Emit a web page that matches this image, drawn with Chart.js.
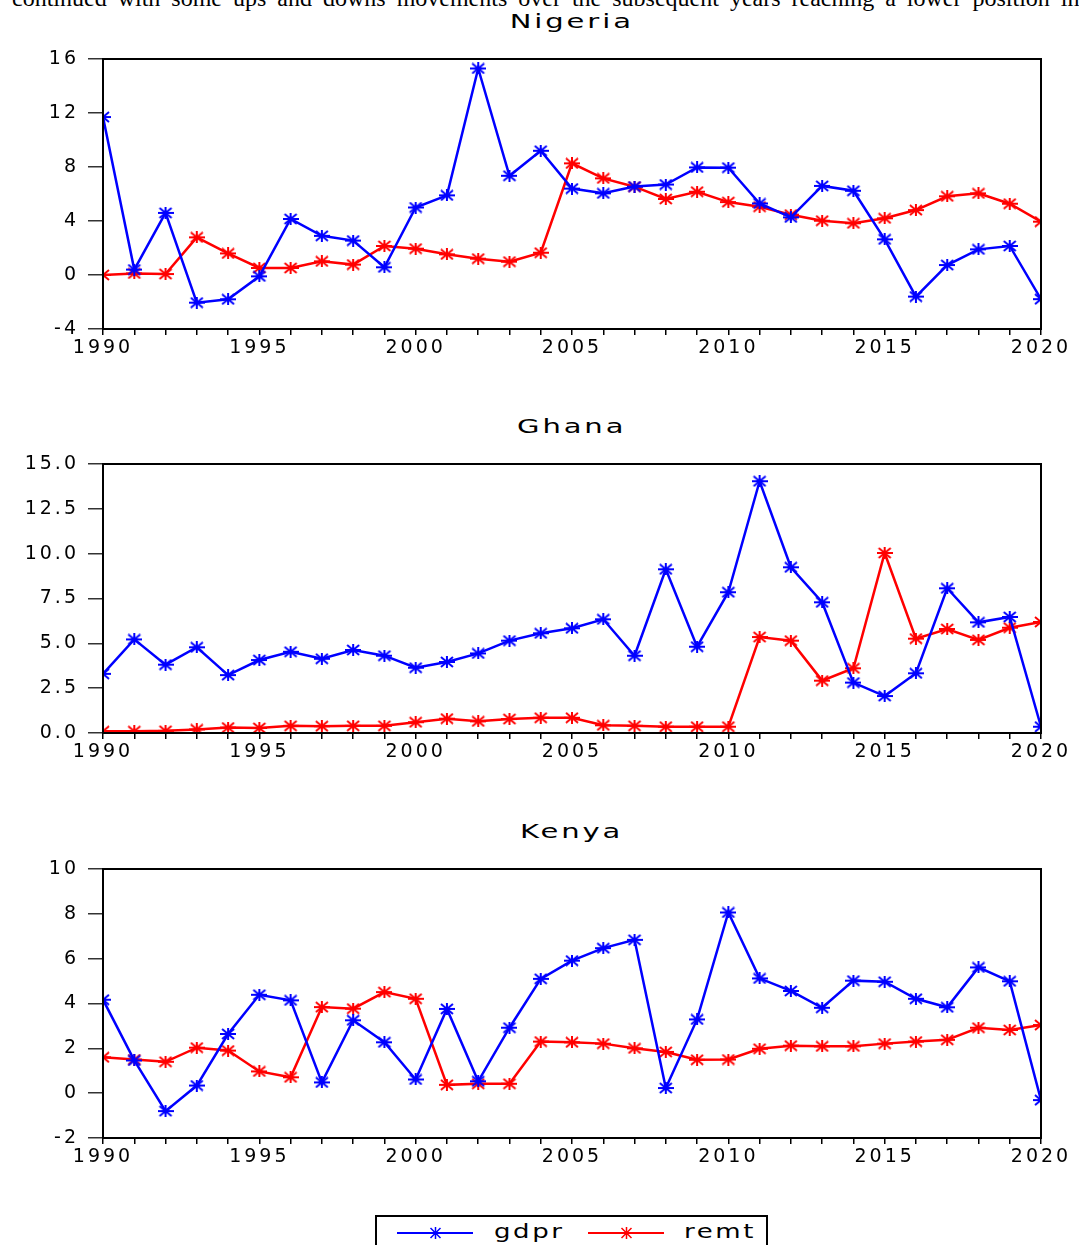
<!DOCTYPE html>
<html>
<head>
<meta charset="utf-8">
<script src="https://cdn.jsdelivr.net/npm/chart.js@4.4.1/dist/chart.umd.min.js"></script>
<style>
  html, body { margin: 0; padding: 0; background: #fff; }
  body { width: 1079px; height: 1245px; position: relative; overflow: hidden; }
  .box { position: absolute; left: 0; width: 1079px; height: 380px; }
  .ttl { position: absolute; left: 103px; width: 938px; text-align: center; font: 20px 'DejaVu Sans', sans-serif; color: #000; }
  .ttl span { display: inline-block; transform: scaleX(1.45); letter-spacing: 2px; }
  .txt { position: absolute; left: 12px; top: -14px; font: 24px 'Liberation Serif', serif; line-height: 24px; white-space: nowrap; word-spacing: 5px; color: #000; }
  .legend { position: absolute; left: 375px; top: 1215px; width: 389px; height: 44px; border: 2px solid #000; background: #fff; }
  .legend .ln { position: absolute; top: 15px; width: 76px; height: 2px; }
  .legend .lab { position: absolute; top: 2px; font: 20px 'DejaVu Sans', sans-serif; letter-spacing: 2px; color: #000; }
  .legend .lab span { display: inline-block; transform: scaleX(1.3); transform-origin: left; }
  .legend svg { position: absolute; top: 10px; }
</style>
</head>
<body>
<div class="txt">continued with some ups and downs movements over the subsequent years reaching a lower position in</div>

<div class="ttl" style="top:9px"><span>Nigeria</span></div>
<div class="box" style="top:0px"><canvas id="nigeria"></canvas></div>

<div class="ttl" style="top:414px"><span>Ghana</span></div>
<div class="box" style="top:400px"><canvas id="ghana"></canvas></div>

<div class="ttl" style="top:819px"><span>Kenya</span></div>
<div class="box" style="top:805px"><canvas id="kenya"></canvas></div>

<div class="legend">
  <div class="ln" style="left:20px;background:#0000ff"></div>
  <svg style="left:52px" width="13" height="12" viewBox="0 0 13 12"><path d="M0 6H13M6.5 0V12M1.5 1L11.5 11M11.5 1L1.5 11" stroke="#0000ff" stroke-width="1.5"/></svg>
  <div class="lab" style="left:117px"><span>gdpr</span></div>
  <div class="ln" style="left:211px;background:#ff0000"></div>
  <svg style="left:243px" width="13" height="12" viewBox="0 0 13 12"><path d="M0 6H13M6.5 0V12M1.5 1L11.5 11M11.5 1L1.5 11" stroke="#ff0000" stroke-width="1.5"/></svg>
  <div class="lab" style="left:307px"><span>remt</span></div>
</div>

<script>
const years = [];
for (let y = 1990; y <= 2020; y++) years.push(y);

// Nigeria
const nigeriaGdpr = [11.7, 0.4, 4.6, -2.05, -1.8, -0.1, 4.15, 2.9, 2.55, 0.57, 5.0, 5.9, 15.3, 7.35, 9.2,
  6.4, 6.05, 6.55, 6.7, 7.97, 7.95, 5.3, 4.27, 6.6, 6.24, 2.64, -1.6, 0.74, 1.9, 2.15, -1.79];
const nigeriaRemt = [0.0, 0.12, 0.07, 2.79, 1.6, 0.52, 0.52, 1.01, 0.77, 2.15, 1.95, 1.53, 1.21, 0.99, 1.65,
  8.27, 7.16, 6.54, 5.63, 6.17, 5.4, 5.06, 4.47, 4.02, 3.83, 4.2, 4.81, 5.83, 6.05, 5.28, 3.95];

// Ghana
const ghanaGdpr = [3.3, 5.22, 3.81, 4.78, 3.23, 4.07, 4.53, 4.14, 4.63, 4.31, 3.64, 3.96, 4.44, 5.15, 5.56,
  5.84, 6.34, 4.31, 9.13, 4.81, 7.85, 14.04, 9.24, 7.29, 2.81, 2.06, 3.33, 8.07, 6.17, 6.47, 0.35];
const ghanaRemt = [0.1, 0.1, 0.12, 0.2, 0.3, 0.28, 0.4, 0.38, 0.4, 0.4, 0.6, 0.8, 0.65, 0.78, 0.85,
  0.85, 0.43, 0.4, 0.35, 0.35, 0.35, 5.35, 5.15, 2.92, 3.61, 10.04, 5.26, 5.8, 5.19, 5.87, 6.19];

// Kenya
const kenyaGdpr = [4.17, 1.46, -0.8, 0.34, 2.64, 4.39, 4.14, 0.48, 3.25, 2.27, 0.61, 3.76, 0.53, 2.92, 5.1,
  5.91, 6.47, 6.84, 0.23, 3.29, 8.06, 5.12, 4.56, 3.81, 5.02, 4.97, 4.21, 3.83, 5.61, 4.99, -0.31];
const kenyaRemt = [1.6, 1.5, 1.4, 2.03, 1.9, 0.97, 0.71, 3.84, 3.77, 4.51, 4.21, 0.37, 0.42, 0.42, 2.3,
  2.27, 2.21, 2.0, 1.84, 1.49, 1.5, 1.98, 2.12, 2.09, 2.09, 2.21, 2.3, 2.38, 2.92, 2.82, 3.04];

const blue = '#0000ff';
const red = '#ff0000';

// asterisk marker like the original plot
const makeStar = (color) => {
    const c = document.createElement('canvas');
    c.width = 16; c.height = 12;
    const g = c.getContext('2d');
    g.strokeStyle = color;
    g.lineWidth = 2;
    g.beginPath();
    g.moveTo(0, 6); g.lineTo(16, 6);
    g.moveTo(8, 0); g.lineTo(8, 12);
    g.moveTo(2, 1); g.lineTo(14, 11);
    g.moveTo(14, 1); g.lineTo(2, 11);
    g.stroke();
    return c;
};
const blueStar = makeStar(blue);
const redStar = makeStar(red);

const frame = {
    id: 'frame',
    beforeDraw(chart) {
        chart.ctx.letterSpacing = '3px';
    },
    afterDatasetsDraw(chart) {
        const { ctx, chartArea: a } = chart;
        ctx.save();
        ctx.strokeStyle = '#000';
        ctx.lineWidth = 2;
        ctx.strokeRect(a.left, a.top, a.right - a.left, a.bottom - a.top);
        ctx.restore();
    }
};

const tickFont = { family: 'DejaVu Sans', size: 19 };

const displayChart = (id, gdpr, remt, yMin, yMax, step, decimals, padTop, padBottom) => {
    const series = (vals) => vals.map((v, i) => ({ x: years[i], y: v }));
    const config = {
        type: 'line',
        data: {
            datasets: [{
                label: 'gdpr',
                data: series(gdpr),
                borderColor: blue,
                borderWidth: 2.5,
                pointStyle: blueStar,
                clip: 0
            }, {
                label: 'remt',
                data: series(remt),
                borderColor: red,
                borderWidth: 2.5,
                pointStyle: redStar,
                clip: 0
            }]
        },
        options: {
            responsive: true,
            maintainAspectRatio: false,
            animation: false,
            layout: { padding: { left: 0, right: 38, top: padTop, bottom: padBottom } },
            plugins: { legend: { display: false }, tooltip: { enabled: false } },
            scales: {
                x: {
                    type: 'linear',
                    min: 1990,
                    max: 2020,
                    afterFit(s) { s.height = 40; },
                    border: { display: false },
                    grid: { drawOnChartArea: false, tickLength: 6, color: '#000', lineWidth: 1.5 },
                    ticks: {
                        stepSize: 1,
                        autoSkip: false,
                        maxRotation: 0,
                        padding: 2,
                        color: '#000',
                        font: tickFont,
                        callback: (v) => v % 5 === 0 ? String(v) : ''
                    }
                },
                y: {
                    min: yMin,
                    max: yMax,
                    afterFit(s) { s.width = 103; },
                    border: { display: false },
                    grid: { drawOnChartArea: false, tickLength: 15, color: '#333', lineWidth: 1.5 },
                    ticks: {
                        stepSize: step,
                        padding: 9,
                        color: '#000',
                        font: tickFont,
                        callback: (v) => v.toFixed(decimals)
                    }
                }
            }
        },
        plugins: [frame]
    };
    new Chart(document.getElementById(id), config);
};

displayChart('nigeria', nigeriaGdpr, nigeriaRemt, -4, 16, 4, 0, 59, 11);
displayChart('ghana', ghanaGdpr, ghanaRemt, 0, 15, 2.5, 1, 64, 7);
displayChart('kenya', kenyaGdpr, kenyaRemt, -2, 10, 2, 0, 64, 7);
</script>
</body>
</html>
